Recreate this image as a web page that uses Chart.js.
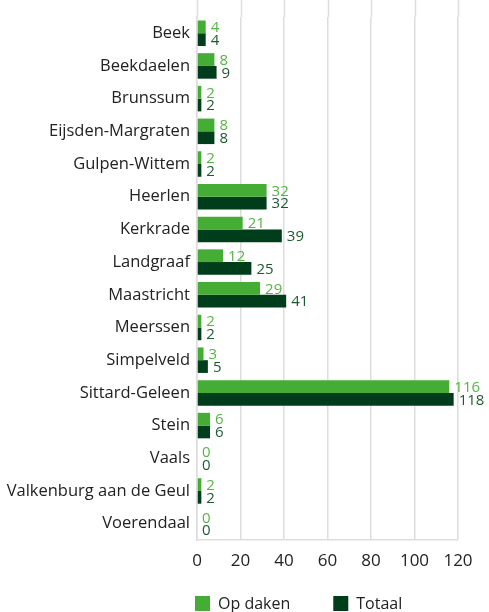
<!DOCTYPE html>
<html><head><meta charset="utf-8">
<script src="https://cdn.jsdelivr.net/npm/chart.js@4/dist/chart.umd.min.js"></script>
<style>html,body{margin:0;padding:0;background:#fff;}#c{display:block;}</style>
</head><body>
<canvas id="c" width="489" height="612"></canvas>
<script>
const categories = ["Beek","Beekdaelen","Brunssum","Eijsden-Margraten","Gulpen-Wittem","Heerlen","Kerkrade","Landgraaf","Maastricht","Meerssen","Simpelveld","Sittard-Geleen","Stein","Vaals","Valkenburg aan de Geul","Voerendaal"];
const opDaken = [4,8,2,8,2,32,21,12,29,2,3,116,6,0,2,0];
const totaal = [4,9,2,8,2,32,39,25,41,2,5,118,6,0,2,0];
const xTicks = [0,20,40,60,80,100,120];

const FONT = "'Open Sans', 'Noto Sans', sans-serif";
const labelColors = ["#55b544","#1d5a30"];
const GRID = '#dddddd';

const gridExtend = {
  id: 'gridExtend',
  beforeDatasetsDraw(chart) {
    const ctx = chart.ctx, x = chart.scales.x, top = chart.chartArea.top;
    ctx.save();
    ctx.strokeStyle = GRID; ctx.lineWidth = 1.5;
    xTicks.forEach(v => {
      const px = Math.round(x.getPixelForValue(v)) + 0.5;
      ctx.beginPath(); ctx.moveTo(px, 0); ctx.lineTo(px, top); ctx.stroke();
    });
    ctx.restore();
  }
};

const valueLabels = {
  id: 'valueLabels',
  afterDatasetsDraw(chart) {
    const ctx = chart.ctx;
    ctx.save();
    ctx.font = "15px " + FONT;
    ctx.textBaseline = 'middle';
    ctx.textAlign = 'left';
    chart.data.datasets.forEach((ds, i) => {
      const meta = chart.getDatasetMeta(i);
      meta.data.forEach((el, j) => {
        ctx.fillStyle = labelColors[i];
        ctx.fillText(String(ds.data[j]), el.x + 5, el.y + 1);
      });
    });
    ctx.restore();
  }
};

const bottomLegend = {
  id: 'bottomLegend',
  afterDraw(chart) {
    const ctx = chart.ctx;
    ctx.save();
    ctx.font = "16px " + FONT;
    ctx.textBaseline = 'middle';
    ctx.textAlign = 'left';
    let x = chart.chartArea.left - 2;
    const cy = chart.height - 9;
    chart.data.datasets.forEach((ds) => {
      ctx.fillStyle = ds.backgroundColor;
      ctx.fillRect(x, cy - 7, 15, 15);
      x += 23;
      ctx.fillStyle = '#222';
      ctx.fillText(ds.label, x, cy + 1);
      x += ctx.measureText(ds.label).width + 43;
    });
    ctx.restore();
  }
};

new Chart(document.getElementById('c'), {
  type: 'bar',
  data: {
    labels: categories,
    datasets: [
      {label: 'Op daken', data: opDaken, backgroundColor: '#45ad35', borderWidth: 0, categoryPercentage: 0.78, barPercentage: 1.0},
      {label: 'Totaal', data: totaal, backgroundColor: '#003d1a', borderWidth: 0, categoryPercentage: 0.78, barPercentage: 1.0}
    ]
  },
  options: {
    indexAxis: 'y',
    responsive: false,
    animation: false,
    devicePixelRatio: 1,
    layout: {padding: {top: 9, right: 31, left: 0, bottom: 37}},
    plugins: {
      legend: {display: false},
      tooltip: {enabled: false}
    },
    scales: {
      x: {
        min: 0, max: 120,
        afterBuildTicks(axis) { axis.ticks = xTicks.map(v => ({value: v})); },
        afterFit(axis) { axis.height = 35; },
        ticks: {color: '#222', font: {family: FONT, size: 17}, padding: 11},
        grid: {color: GRID, lineWidth: 1.5, drawTicks: false},
        border: {color: GRID, width: 1.5}
      },
      y: {
        afterFit(axis) { axis.width = 197; },
        ticks: {color: '#222', font: {family: FONT, size: 16.5}, padding: 7, autoSkip: false},
        grid: {display: false, drawTicks: false},
        border: {color: GRID, width: 1.5}
      }
    }
  },
  plugins: [gridExtend, valueLabels, bottomLegend]
});
</script>
</body></html>
